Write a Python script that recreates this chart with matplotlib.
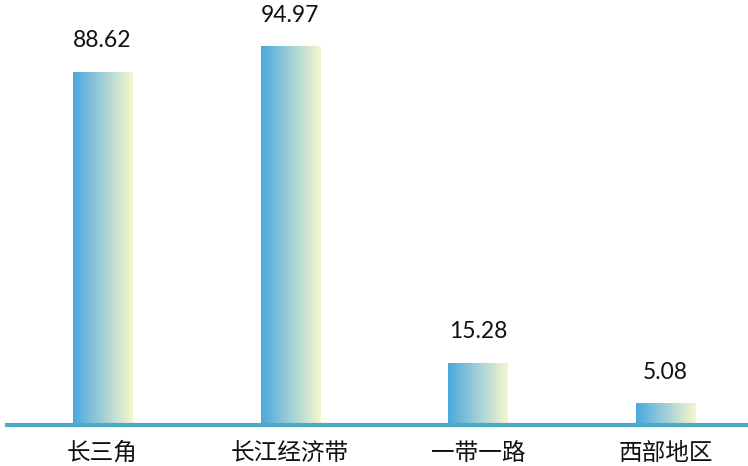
import matplotlib
matplotlib.use("Agg")
import matplotlib.pyplot as plt
import numpy as np
from matplotlib.colors import LinearSegmentedColormap

categories = ["长三角", "长江经济带", "一带一路", "西部地区"]
values = [88.62, 94.97, 15.28, 5.08]
value_labels = ["88.62", "94.97", "15.28", "5.08"]

plt.rcParams['font.family'] = ['Noto Sans CJK SC', 'DejaVu Sans']

fig = plt.figure(figsize=(7.48, 4.66), dpi=100)
ax = fig.add_axes([7/748, 42/466, 741/748, 397/466])

cmap = LinearSegmentedColormap.from_list("g", ["#4AA8DE", "#A2D0D8", "#F5F7CC"])
grad = np.linspace(0, 1, 256).reshape(1, -1)

x = np.arange(len(categories))
bars = ax.bar(x, values, width=0.315, color="none", edgecolor="none")
for b, lab in zip(bars, value_labels):
    x0, w, h = b.get_x(), b.get_width(), b.get_height()
    ax.imshow(grad, cmap=cmap, aspect="auto", extent=[x0, x0 + w, 0, h],
              interpolation="bicubic", zorder=2)
    ax.text(x0 + w / 2, h + 7.9, lab, ha="center", va="center",
            fontsize=16.5, family=["Lato", "DejaVu Sans"], color="#111111")

ax.set_xlim(-0.509, 3.439)
ax.set_ylim(0, 100)
ax.axhline(-0.15, color="#4BACC6", lw=3.0, zorder=3, clip_on=False)

for s in ax.spines.values():
    s.set_visible(False)
ax.set_yticks([])
ax.set_xticks(x)
ax.set_xticklabels(categories, fontsize=17, color="#111111")
ax.tick_params(axis="x", length=0, pad=13)

fig.savefig("out.png", dpi=100)
